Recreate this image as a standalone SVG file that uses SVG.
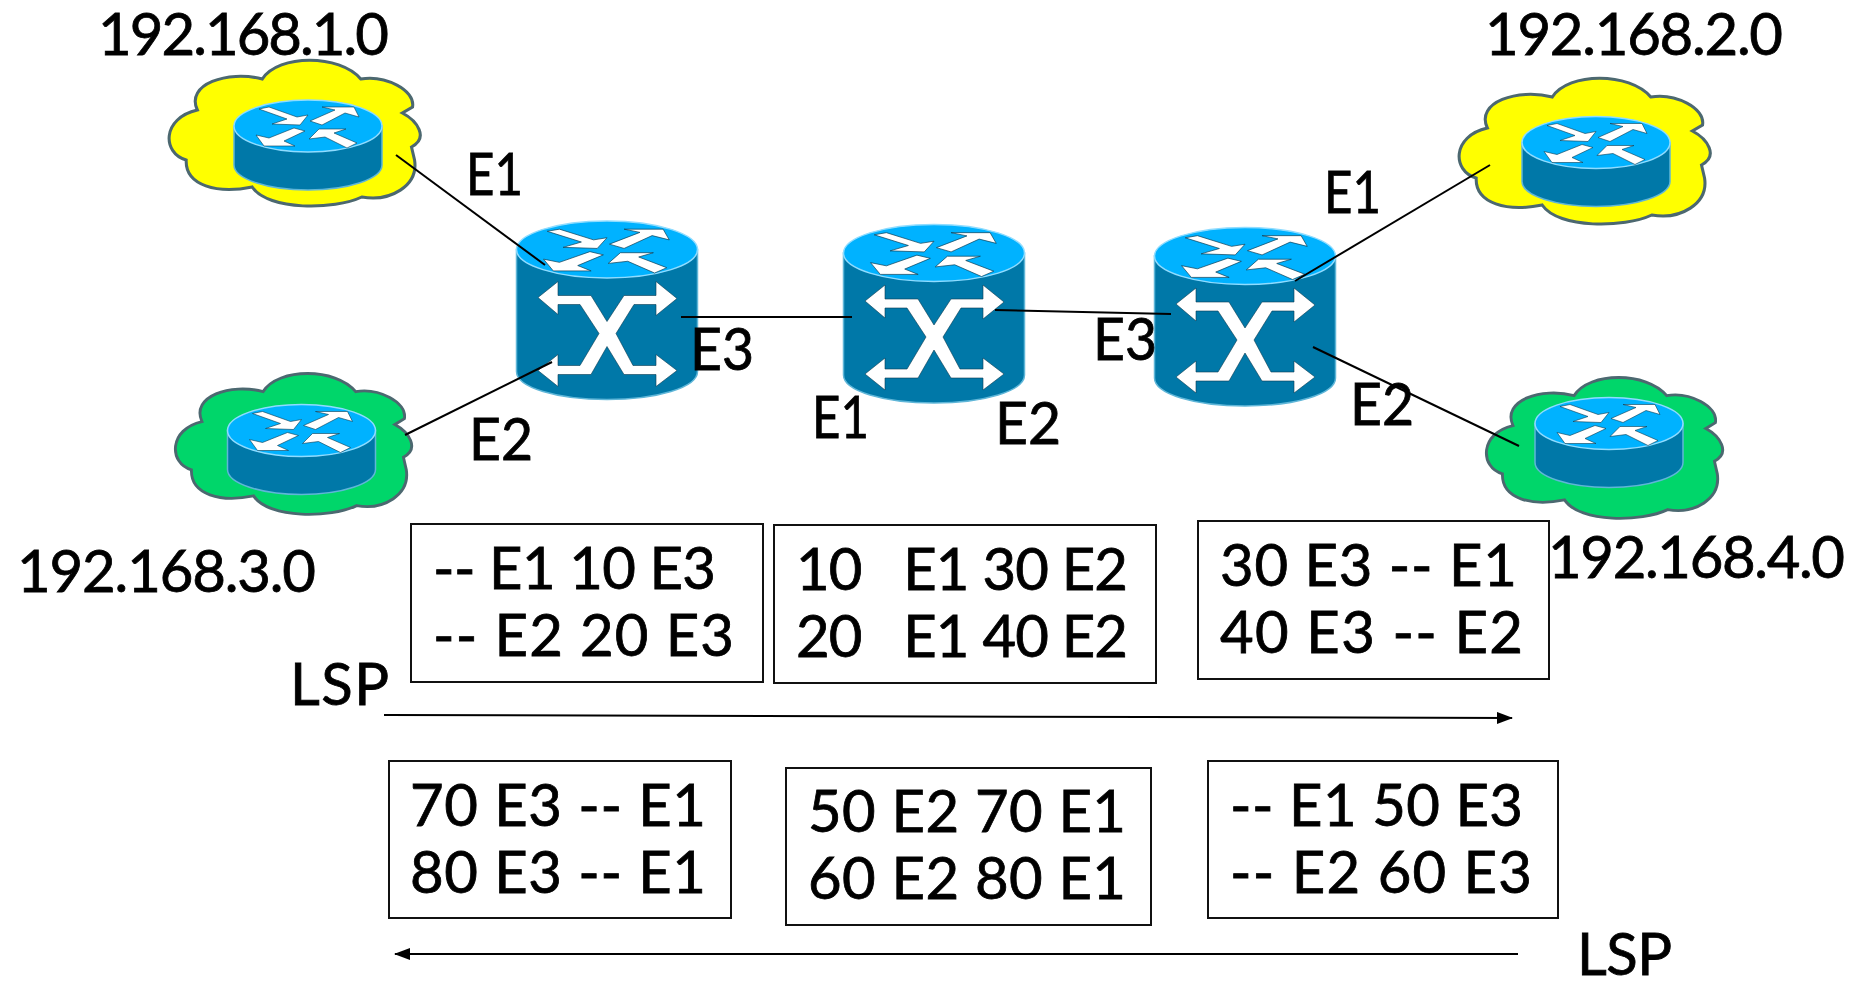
<svg xmlns="http://www.w3.org/2000/svg" xmlns:xlink="http://www.w3.org/1999/xlink" width="1858" height="987" viewBox="0 0 1858 987">
<style>
text{font-family:"Lato","Noto Sans","DejaVu Sans",sans-serif;font-size:58px;fill:#000;stroke:#000;stroke-width:.8;white-space:pre}
.box{fill:#fff;stroke:#111;stroke-width:2}
.link{stroke:#000;stroke-width:2;fill:none}
.arrow{stroke:#000;stroke-width:2;fill:none;marker-end:url(#head)}
.side{fill:#0078A8;stroke:#5fb6d8;stroke-width:1.5}
.top{fill:#00B2FF;stroke:#8fdcff;stroke-width:1.5}
.glyph{fill:#fff;stroke:#0a3a50;stroke-width:.6}
.cloud{stroke:#4C6870;stroke-width:3}
</style>
<defs>
<marker id="head" markerUnits="userSpaceOnUse" markerWidth="16" markerHeight="12" refX="15" refY="6" orient="auto"><path d="M0 0L16 6L0 12Z" fill="#000"/></marker>
<path id="cloudshape" d="M-46-47C-30-72 30-72 51-47C75-51 105-36 102-19L92-13C107-5 118 12 101 21L104 34C108 60 80 76 52 71C25 84-40 85-56 61C-90 68-122 60-121 34C-145 27-145-8-110-16C-122-42-80-56-46-47Z"/>
<g id="arrows4">
<polygon class="glyph" points="-49,-17 -39,-19 -11,-9 0,-11 -8,-1 -36,-2 -21,-7"/>
<polygon class="glyph" points="2,-5 27,-16 14,-19 46,-19 51,-9 37,-13 14,-1"/>
<polygon class="glyph" points="-52,9 -39,12 -14,2 -3,5 -24,15 -13,20 -44,20"/>
<polygon class="glyph" points="1,13 11,3 38,3 26,7 49,17 39,22 17,11"/>
</g>
<g id="router">
<path class="side" d="M-74 0V39C-74 53-40 64 0 64S74 53 74 39V0Z"/>
<ellipse class="top" rx="74" ry="26"/>
<use href="#arrows4"/>
</g>
<g id="switch">
<path class="side" d="M-90.500 0V122C-90.500 138-50 150 0 150S90.500 138 90.500 122V0Z"/>
<ellipse class="top" rx="90.500" ry="28.500"/>
<use href="#arrows4" transform="scale(1.22 1.07)"/>
<polygon fill="#fff" stroke="#0a3a50" stroke-width=".6" points="-69,48 -49,32 -49,46 -16,46 0,72 17,46 49,46 49,32 70,49 49,66 49,55 27,55 9,84 26,116 49,116 49,105 70,121 49,137 49,125 17,125 0,97 -16,125 -49,125 -49,137 -69,121 -49,105 -49,116 -27,116 -8,84 -27,55 -49,55 -49,65"/>
</g>
</defs>
<rect width="1858" height="987" fill="#fff"/>
<g id="edge1">
<use href="#cloudshape" class="cloud" fill="#FFFF00" transform="translate(309 126) scale(1.015 1)"/>
<use href="#router" transform="translate(308 126)"/>
<text x="98" y="55" textLength="291">192.168.1.0</text>
</g>
<g id="edge2">
<use href="#cloudshape" class="cloud" fill="#FFFF00" transform="translate(1599 144) scale(1.015 1)"/>
<use href="#router" transform="translate(1596 142.500)"/>
<text x="1485" y="55" textLength="298">192.168.2.0</text>
</g>
<g id="edge3">
<use href="#cloudshape" class="cloud" fill="#00D66A" transform="translate(307 437) scale(.955 .966)"/>
<use href="#router" transform="translate(301.500 430.500)"/>
<text x="17" y="592" textLength="299">192.168.3.0</text>
</g>
<g id="edge4">
<use href="#cloudshape" class="cloud" fill="#00D66A" transform="translate(1618 441) scale(.955 .966)"/>
<use href="#router" transform="translate(1609 423.500)"/>
<text x="1548" y="578" textLength="297">192.168.4.0</text>
</g>
<g id="lsr1"><use href="#switch" transform="translate(607 249.500)"/></g>
<g id="lsr2"><use href="#switch" transform="translate(934 253)"/></g>
<g id="lsr3"><use href="#switch" transform="translate(1245 256)"/></g>
<g id="connectors">
<line class="link" x1="396" y1="155" x2="545" y2="265"/>
<line class="link" x1="405" y1="435" x2="552" y2="362"/>
<line class="link" x1="681" y1="317" x2="852" y2="317"/>
<line class="link" x1="995" y1="310" x2="1171" y2="314"/>
<line class="link" x1="1295" y1="281" x2="1490" y2="165"/>
<line class="link" x1="1313" y1="347" x2="1519" y2="446"/>
<line class="arrow" x1="384" y1="715" x2="1512" y2="718"/>
<line class="arrow" x1="1518" y1="954" x2="395" y2="954"/>
</g>
<g id="port-labels">
<text x="466" y="195" textLength="57" lengthAdjust="spacingAndGlyphs">E1</text>
<text x="469" y="460" textLength="64" lengthAdjust="spacingAndGlyphs">E2</text>
<text x="690" y="370" textLength="64" lengthAdjust="spacingAndGlyphs">E3</text>
<text x="812" y="438" textLength="57" lengthAdjust="spacingAndGlyphs">E1</text>
<text x="995" y="444" textLength="66" lengthAdjust="spacingAndGlyphs">E2</text>
<text x="1093" y="360" textLength="64" lengthAdjust="spacingAndGlyphs">E3</text>
<text x="1324" y="213" textLength="57" lengthAdjust="spacingAndGlyphs">E1</text>
<text x="1350" y="425" textLength="64" lengthAdjust="spacingAndGlyphs">E2</text>
</g>
<g id="table1"><rect class="box" x="411" y="524" width="352" height="158"/>
<text x="433" y="589" textLength="283">-- E1 10 E3</text><text x="433" y="656" textLength="301">-- E2 20 E3</text></g>
<g id="table2"><rect class="box" x="774" y="525" width="382" height="158"/>
<text x="796" y="590" textLength="332">10   E1 30 E2</text><text x="796" y="657" textLength="332">20   E1 40 E2</text></g>
<g id="table3"><rect class="box" x="1198" y="521" width="351" height="158"/>
<text x="1220" y="586" textLength="297">30 E3 -- E1</text><text x="1220" y="653" textLength="303">40 E3 -- E2</text></g>
<g id="table4"><rect class="box" x="389" y="761" width="342" height="157"/>
<text x="410" y="826" textLength="296">70 E3 -- E1</text><text x="410" y="893" textLength="296">80 E3 -- E1</text></g>
<g id="table5"><rect class="box" x="786" y="768" width="365" height="157"/>
<text x="808" y="832" textLength="318">50 E2 70 E1</text><text x="808" y="899" textLength="318">60 E2 80 E1</text></g>
<g id="table6"><rect class="box" x="1208" y="761" width="350" height="157"/>
<text x="1230" y="826" textLength="293">-- E1 50 E3</text><text x="1230" y="893" textLength="302">-- E2 60 E3</text></g>
<g id="lsp-labels">
<text x="290" y="705" textLength="99">LSP</text>
<text x="1577" y="975" textLength="95">LSP</text>
</g>
</svg>
